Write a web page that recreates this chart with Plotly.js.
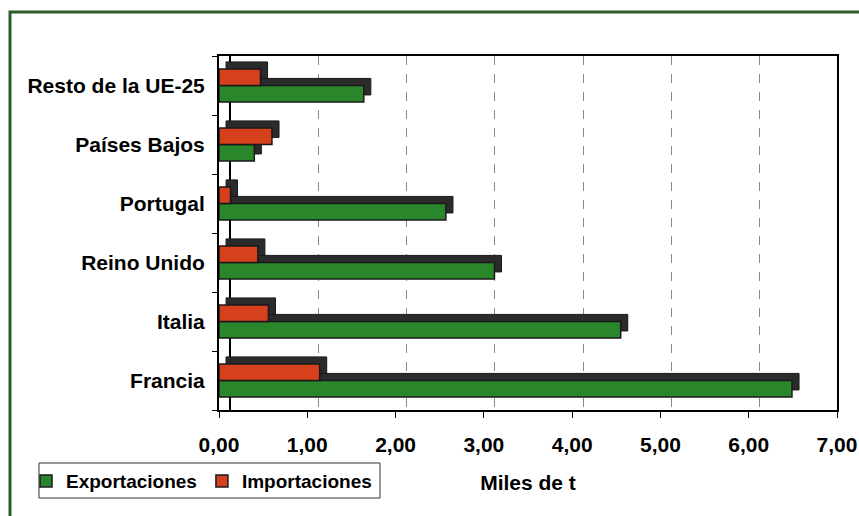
<!DOCTYPE html>
<html><head><meta charset="utf-8">
<script src="https://cdn.plot.ly/plotly-3.0.1.min.js"></script>
<style>html,body{margin:0;padding:0;background:#fff}#c{width:859px;height:516px}</style>
</head><body><div id="c"></div>
<script>
const categories = ["Francia", "Italia", "Reino Unido", "Portugal", "Países Bajos", "Resto de la UE-25"];
const exportaciones = [6.49, 4.55, 3.12, 2.57, 0.40, 1.64];
const importaciones = [1.14, 0.56, 0.44, 0.13, 0.60, 0.47];
const xTicks = [0, 1, 2, 3, 4, 5, 6, 7];

const GREEN = "#2a862a", RED = "#d6401c", DARK = "#2b2b2b", EDGE = "#1a1a1a";
const W = 0.28, DY = 0.12, DX = 0.08;
const FAM = "Liberation Sans, Arial, sans-serif";
const F = {family: FAM, size: 21, color: "#000", weight: "bold"};
const FL = {family: FAM, size: 19, color: "#000", weight: "bold"};

const traces = [
  {type: "bar", orientation: "h", y: categories, x: exportaciones, base: DX, width: W, offset: -W + DY,
   marker: {color: DARK, line: {color: EDGE, width: 1}}, showlegend: false, hoverinfo: "skip"},
  {type: "bar", orientation: "h", y: categories, x: importaciones, base: DX, width: W, offset: DY,
   marker: {color: DARK, line: {color: EDGE, width: 1}}, showlegend: false, hoverinfo: "skip"},
  {type: "bar", orientation: "h", name: "Exportaciones", y: categories, x: exportaciones, width: W, offset: -W,
   marker: {color: GREEN, line: {color: EDGE, width: 1.5}}, hoverinfo: "skip"},
  {type: "bar", orientation: "h", name: "Importaciones", y: categories, x: importaciones, width: W, offset: 0,
   marker: {color: RED, line: {color: EDGE, width: 1.5}}, hoverinfo: "skip"},
  {type: "scatter", x: [], y: [], xaxis: "x2", showlegend: false, hoverinfo: "skip"}
];

const layout = {
  width: 859, height: 516,
  margin: {l: 219, r: 22, t: 56, b: 106},
  paper_bgcolor: "#fff", plot_bgcolor: "rgba(0,0,0,0)",
  barmode: "overlay",
  separators: ",.",
  showlegend: true,
  legend: {orientation: "h", x: -0.3123, xanchor: "left", y: -0.147, yanchor: "top",
    borderwidth: 0, font: FL, bgcolor: "rgba(0,0,0,0)",
    itemwidth: 30, tracegroupgap: 0, traceorder: "normal"},
  xaxis: {range: [0, 7], tickvals: xTicks, tickformat: ".2f", showgrid: false, zeroline: false,
    showline: true, linecolor: "#000", linewidth: 2, ticks: "outside", ticklen: 6, tickcolor: "#000",
    tickfont: F, ticklabelstandoff: 9,
    title: {text: "Miles de t", font: F, standoff: 20}},
  xaxis2: {overlaying: "x", range: [-0.125, 6.875], tickvals: xTicks, showticklabels: false,
    showgrid: true, gridcolor: "#8a8a8a", griddash: "dash", gridwidth: 1,
    zeroline: true, zerolinecolor: "#000", zerolinewidth: 1.5,
    showline: true, side: "top", linecolor: "#000", linewidth: 2, ticks: ""},
  yaxis: {categoryorder: "array", categoryarray: categories, range: [-0.5, 5.5],
    showline: true, mirror: true, linecolor: "#000", linewidth: 2, ticks: "outside", tickson: "boundaries",
    ticklen: 5, tickcolor: "#000", tickfont: F, ticklabelstandoff: 8, showgrid: false},
  shapes: [
    {type: "rect", xref: "paper", yref: "paper", x0: -0.3382, x1: 1.2, y0: -0.5, y1: 1.1243,
     line: {color: "#2b5e2b", width: 3}, fillcolor: "rgba(0,0,0,0)", layer: "below"},
    {type: "rect", xref: "paper", yref: "paper", x0: -0.2913, x1: 0.2605, y0: -0.2486, y1: -0.1497,
     line: {color: "#333", width: 1}, fillcolor: "rgba(0,0,0,0)", layer: "above"}
  ]
};

Plotly.newPlot("c", traces, layout, {staticPlot: true, displayModeBar: false});
</script></body></html>
